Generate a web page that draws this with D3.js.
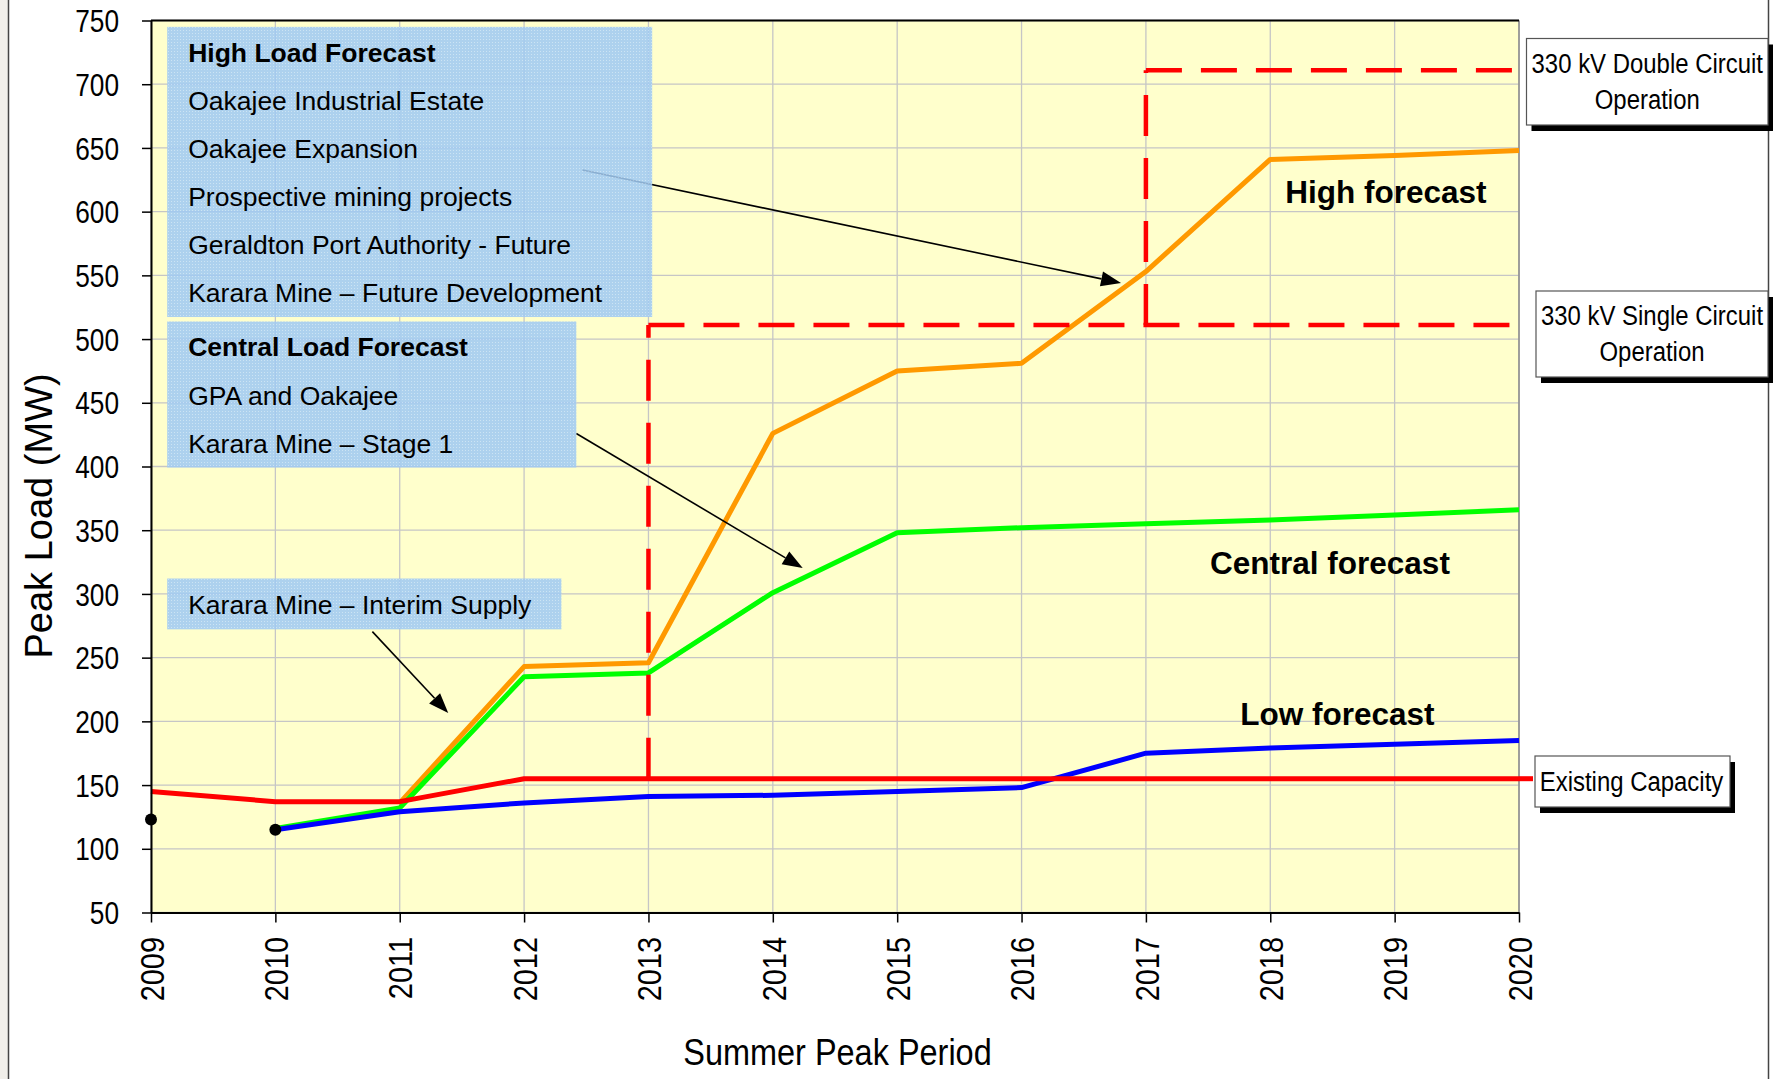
<!DOCTYPE html>
<html>
<head>
<meta charset="utf-8">
<script src="https://cdn.jsdelivr.net/npm/d3@7"></script>
<style>
  html, body { margin: 0; padding: 0; background: #ffffff; }
  svg { display: block; font-family: "Liberation Sans", Arial, sans-serif; }
</style>
</head>
<body>
<svg id="chart" width="1775" height="1079"></svg>
<script>
// ---- data -------------------------------------------------------------
const years = [2009, 2010, 2011, 2012, 2013, 2014, 2015, 2016, 2017, 2018, 2019, 2020];
const existingCapacity = [145, 137, 137, 155, 155, 155, 155, 155, 155, 155, 155, 155];
const highForecast     = [null, null, 136, 243, 246, 426, 475, 481, 553, 641, 644, 648];
const centralForecast  = [null, 116, 132, 235, 238, 301, 348, 352, 355, 358, 362, 366];
const lowForecast      = [null, 115, 129, 136, 141, 142, 145, 148, 175, 179, 182, 185];
const actualYears = [2009, 2010];
const actualLoad  = [123, 115];
const loadTicks = [50, 100, 150, 200, 250, 300, 350, 400, 450, 500, 550, 600, 650, 700, 750];
const circuitYears  = [2013, 2017];   // single circuit, double circuit
const circuitLimits = [511, 711];
const highLoadItems    = ["Oakajee Industrial Estate", "Oakajee Expansion", "Prospective mining projects",
                          "Geraldton Port Authority - Future", "Karara Mine \u2013 Future Development"];
const centralLoadItems = ["GPA and Oakajee", "Karara Mine \u2013 Stage 1"];
const interimItems     = ["Karara Mine \u2013 Interim Supply"];

// ---- setup ------------------------------------------------------------
const svg = d3.select("#chart");
const plot = { left: 151, right: 1519, top: 20.5, bottom: 912.5 };
const x = d3.scaleLinear().domain([2009, 2020]).range([plot.left, plot.right]);
const y = d3.scaleLinear().domain([50, 750]).range([plot.bottom, plot.top]);

// squeeze text along its own direction (narrow chart font)
function condense(sel, k) {
  sel.each(function () {
    const w = this.getComputedTextLength();
    this.setAttribute("textLength", (w * k).toFixed(1));
    this.setAttribute("lengthAdjust", "spacingAndGlyphs");
  });
}

const defs = svg.append("defs");
const pat = defs.append("pattern").attr("id", "dither")
  .attr("width", 3).attr("height", 3).attr("patternUnits", "userSpaceOnUse");
pat.append("rect").attr("width", 3).attr("height", 3).attr("fill", "#a0caf3");
pat.append("rect").attr("width", 1).attr("height", 1).attr("fill", "#c4e0fb");

// page frame
svg.append("rect").attr("x", 0).attr("y", 0).attr("width", 8).attr("height", 1079).attr("fill", "#f1efea");
svg.append("line").attr("x1", 8.5).attr("x2", 8.5).attr("y1", 0).attr("y2", 1079)
  .attr("stroke", "#444").attr("stroke-width", 1.5);
svg.append("line").attr("x1", 1768.5).attr("x2", 1768.5).attr("y1", 0).attr("y2", 1079)
  .attr("stroke", "#444").attr("stroke-width", 1.5);

// plot background
svg.append("rect")
  .attr("x", plot.left).attr("y", plot.top)
  .attr("width", plot.right - plot.left).attr("height", plot.bottom - plot.top)
  .attr("fill", "#ffffcc");

// grid
const grid = svg.append("g").attr("stroke", "#c6c6c6").attr("stroke-width", 1.3);
grid.selectAll("line.h").data(loadTicks).join("line").attr("class", "h")
  .attr("x1", plot.left).attr("x2", plot.right)
  .attr("y1", d => y(d)).attr("y2", d => y(d));
grid.selectAll("line.v").data(years).join("line").attr("class", "v")
  .attr("x1", d => x(d)).attr("x2", d => x(d))
  .attr("y1", plot.top).attr("y2", plot.bottom);

// right and top frame of the plot
svg.append("line").attr("x1", plot.right).attr("x2", plot.right)
  .attr("y1", plot.top).attr("y2", plot.bottom).attr("stroke", "#8a8a8a").attr("stroke-width", 1.5);
svg.append("line").attr("x1", plot.left).attr("x2", plot.right)
  .attr("y1", plot.top).attr("y2", plot.top).attr("stroke", "#000").attr("stroke-width", 2);

// ---- series -----------------------------------------------------------
const line = d3.line()
  .defined(d => d.v != null)
  .x(d => x(d.year)).y(d => y(d.v));
const toPts = arr => years.map((yr, i) => ({ year: yr, v: arr[i] }));

const series = [
  { values: highForecast,    color: "#ff9900" },
  { values: centralForecast, color: "#00ff00" },
  { values: lowForecast,     color: "#0000ff" },
  { values: existingCapacity, color: "#ff0000" }
];
svg.append("g").selectAll("path").data(series).join("path")
  .attr("d", s => line(toPts(s.values)))
  .attr("fill", "none")
  .attr("stroke", s => s.color)
  .attr("stroke-width", 5)
  .attr("stroke-linejoin", "round");

// capacity line runs on to its label
const capEnd = existingCapacity[existingCapacity.length - 1];
svg.append("line")
  .attr("x1", x(2020)).attr("x2", 1533)
  .attr("y1", y(capEnd)).attr("y2", y(capEnd))
  .attr("stroke", "#ff0000").attr("stroke-width", 5);

// transmission limits (dashed steps)
const lim = svg.append("g").attr("stroke", "#ff0000").attr("stroke-width", 4.5).attr("fill", "none");
const stepBase = [capEnd, circuitLimits[0]];
circuitYears.forEach((yr, i) => {
  lim.append("line")
    .attr("x1", x(yr)).attr("x2", x(yr))
    .attr("y1", y(stepBase[i])).attr("y2", y(circuitLimits[i]))
    .attr("stroke-dasharray", "41 22");
  lim.append("line")
    .attr("x1", x(yr)).attr("x2", x(2020))
    .attr("y1", y(circuitLimits[i])).attr("y2", y(circuitLimits[i]))
    .attr("stroke-dasharray", "36 19");
});

// actual loads
svg.append("g").selectAll("circle").data(actualYears).join("circle")
  .attr("cx", d => x(d)).attr("cy", (d, i) => y(actualLoad[i]))
  .attr("r", 6).attr("fill", "#000");

// ---- annotation arrows ------------------------------------------------
const arrows = [
  { from: [2012.47, 632.7], to: [2016.80, 544.0] },
  { from: [2012.42, 425.9], to: [2014.24, 320.3] },
  { from: [2010.78, 270.4], to: [2011.39, 206.6] }
];
const arrowG = svg.append("g");
arrows.forEach(a => {
  const x1 = x(a.from[0]), y1 = y(a.from[1]), x2 = x(a.to[0]), y2 = y(a.to[1]);
  const ang = Math.atan2(y2 - y1, x2 - x1);
  const L = 20, hw = 7.5;
  const bx = x2 - L * Math.cos(ang), by = y2 - L * Math.sin(ang);
  arrowG.append("line").attr("x1", x1).attr("y1", y1).attr("x2", bx).attr("y2", by)
    .attr("stroke", "#000").attr("stroke-width", 1.6);
  const p1 = [bx + hw * Math.sin(ang), by - hw * Math.cos(ang)];
  const p2 = [bx - hw * Math.sin(ang), by + hw * Math.cos(ang)];
  arrowG.append("polygon")
    .attr("points", [[x2, y2], p1, p2].map(p => p.join(",")).join(" "))
    .attr("fill", "#000");
});

// ---- driver boxes -----------------------------------------------------
const boxes = [
  { x0: 2009.13, x1: 2013.03, top: 745.0, bottom: 517.3, title: "High Load Forecast", items: highLoadItems },
  { x0: 2009.13, x1: 2012.42, top: 513.8, bottom: 399.2, title: "Central Load Forecast", items: centralLoadItems },
  { x0: 2009.13, x1: 2012.30, top: 312.1, bottom: 272.2, title: null, items: interimItems }
];
boxes.forEach(b => {
  const g = svg.append("g");
  const bx = x(b.x0), by = y(b.top);
  g.append("rect")
    .attr("x", bx).attr("y", by)
    .attr("width", x(b.x1) - bx).attr("height", y(b.bottom) - by)
    .attr("fill", "url(#dither)").attr("opacity", 0.86);
  const lines = b.title ? [b.title].concat(b.items) : b.items;
  lines.forEach((t, i) => {
    g.append("text")
      .attr("x", bx + 21).attr("y", by + 35 + 48.1 * i)
      .attr("font-size", 26.5)
      .attr("font-weight", b.title && i === 0 ? "bold" : "normal")
      .attr("fill", "#000")
      .text(t);
  });
});

// ---- axes -------------------------------------------------------------
const yAxis = svg.append("g").attr("transform", `translate(${plot.left},0)`)
  .call(d3.axisLeft(y).tickValues(loadTicks).tickSize(9).tickSizeOuter(0).tickPadding(23));
yAxis.select(".domain").attr("stroke", "#000").attr("stroke-width", 2);
yAxis.selectAll(".tick line").attr("stroke", "#000").attr("stroke-width", 1.5);
const yTickText = yAxis.selectAll(".tick text")
  .attr("font-size", 32).attr("font-family", "Liberation Sans, Arial, sans-serif")
  .attr("fill", "#000").attr("dy", "0.35em");
condense(yTickText, 0.82);

const xAxis = svg.append("g").attr("transform", `translate(0,${plot.bottom})`)
  .call(d3.axisBottom(x).tickValues(years).tickFormat(d3.format("d")).tickSize(10).tickSizeOuter(0));
xAxis.select(".domain").attr("stroke", "#000").attr("stroke-width", 2);
xAxis.selectAll(".tick line").attr("stroke", "#000").attr("stroke-width", 1.5);
const xTickText = xAxis.selectAll(".tick text")
  .attr("font-size", 34).attr("font-family", "Liberation Sans, Arial, sans-serif")
  .attr("fill", "#000")
  .attr("transform", "rotate(-90)")
  .attr("x", -24.5).attr("y", 0).attr("dy", "0.36em")
  .attr("text-anchor", "end");
condense(xTickText, 0.85);

// axis titles
const xTitle = svg.append("text")
  .attr("x", 837.5).attr("y", 1065).attr("text-anchor", "middle")
  .attr("font-size", 37).attr("fill", "#000").text("Summer Peak Period");
condense(xTitle, 0.877);
const yTitle = svg.append("text")
  .attr("transform", "translate(52,516) rotate(-90)").attr("text-anchor", "middle")
  .attr("font-size", 38).attr("fill", "#000").text("Peak Load (MW)");
condense(yTitle, 1.0);

// ---- series labels ----------------------------------------------------
const seriesLabels = [
  { text: "High forecast",    at: [2018.93, 606.8] },
  { text: "Central forecast", at: [2018.48, 315.6] },
  { text: "Low forecast",     at: [2018.54, 197.1] }
];
svg.append("g").selectAll("text").data(seriesLabels).join("text")
  .attr("x", d => x(d.at[0])).attr("y", d => y(d.at[1]))
  .attr("text-anchor", "middle").attr("font-size", 31.5).attr("font-weight", "bold")
  .attr("fill", "#000").text(d => d.text);

// ---- right-hand callouts ----------------------------------------------
const callouts = [
  { x0: 1526.5, x1: 1768, y0: 38.5, y1: 125, lines: ["330 kV Double Circuit", "Operation"], base: [73, 108.5] },
  { x0: 1536,   x1: 1768, y0: 291,  y1: 377, lines: ["330 kV Single Circuit", "Operation"], base: [325, 361] },
  { x0: 1535,   x1: 1730, y0: 756,  y1: 807, lines: ["Existing Capacity"], base: [790.5] }
];
callouts.forEach(c => {
  const g = svg.append("g");
  g.append("rect").attr("x", c.x0 + 5).attr("y", c.y0 + 6)
    .attr("width", c.x1 - c.x0).attr("height", c.y1 - c.y0).attr("fill", "#000");
  g.append("rect").attr("x", c.x0).attr("y", c.y0)
    .attr("width", c.x1 - c.x0).attr("height", c.y1 - c.y0)
    .attr("fill", "#fff").attr("stroke", "#555").attr("stroke-width", 1.2);
  c.lines.forEach((t, i) => {
    const cx = (c.x0 + c.x1) / 2 + (c.lines.length === 1 ? -1 : 0);
    // narrow lettering: squeeze horizontally about the line's centre
    g.append("g")
      .attr("transform", `translate(${cx},${c.base[i]}) scale(0.855,1)`)
      .append("text")
      .attr("x", 0).attr("y", 0)
      .attr("text-anchor", "middle").attr("font-size", 28).attr("fill", "#000").text(t);
  });
});
</script>
</body>
</html>
